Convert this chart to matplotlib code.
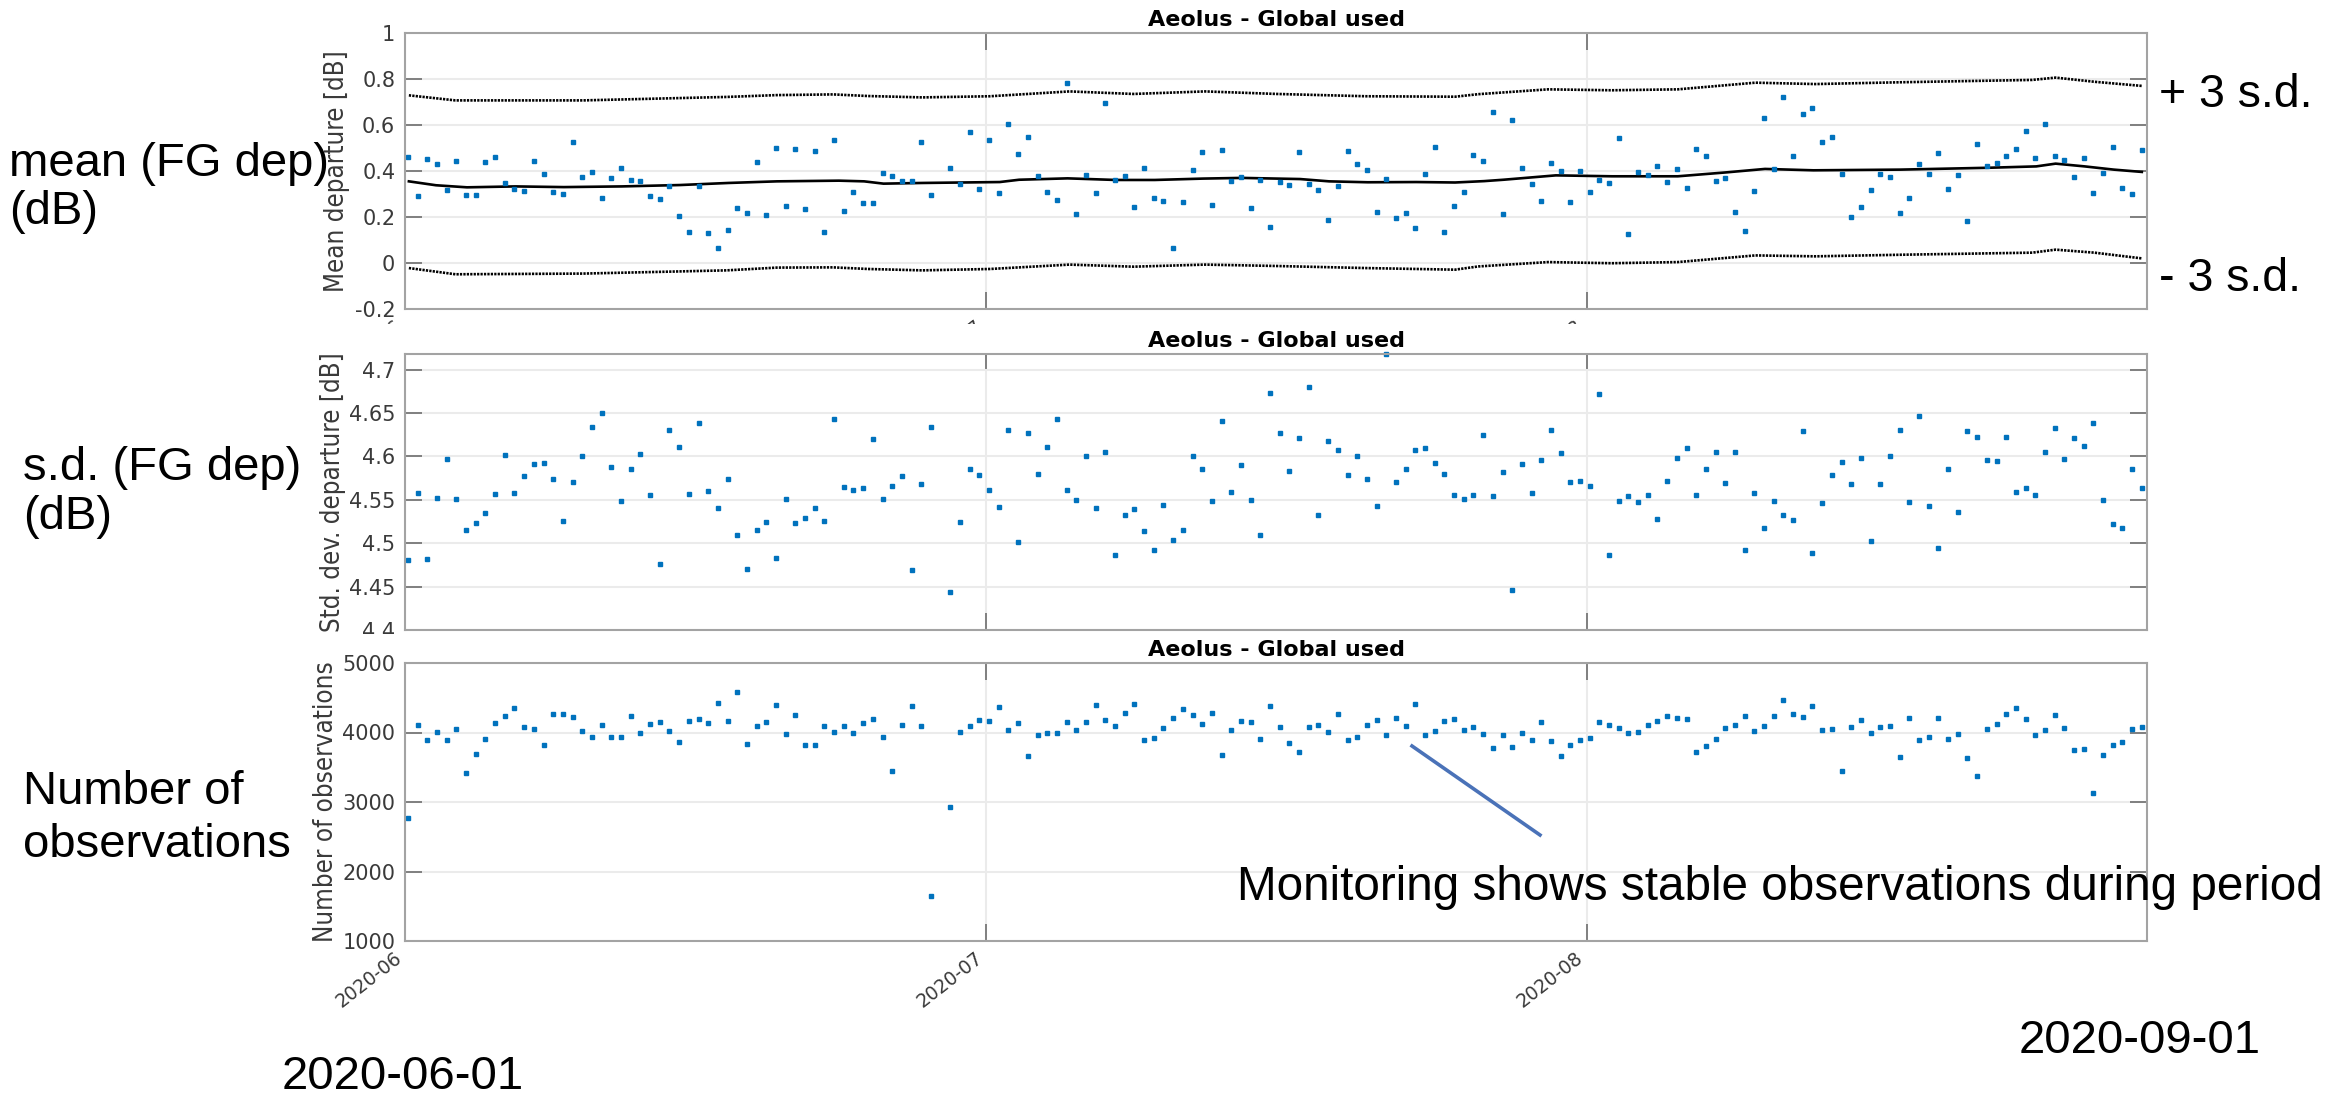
import numpy as np
import matplotlib
matplotlib.use("Agg")
import matplotlib.pyplot as plt
from matplotlib.transforms import Bbox

# ---------------------------------------------------------------------------
# Aeolus L2B monitoring, 12-hourly statistics, June - August 2020
# ---------------------------------------------------------------------------
first_time = np.datetime64("2020-06-01T03:36")
n_samples = 180
times = first_time + np.arange(n_samples) * np.timedelta64(12, "h")

mean_dep = [
    0.459, 0.291, 0.452, 0.432, 0.319, 0.445, 0.296, 0.296, 0.439, 0.459,
    0.349, 0.322, 0.313, 0.442, 0.386, 0.307, 0.300, 0.528, 0.375, 0.396,
    0.281, 0.368, 0.412, 0.361, 0.355, 0.291, 0.278, 0.333, 0.206, 0.133,
    0.336, 0.132, 0.065, 0.143, 0.241, 0.217, 0.438, 0.209, 0.501, 0.249,
    0.497, 0.233, 0.486, 0.135, 0.533, 0.226, 0.310, 0.259, 0.259, 0.391,
    0.380, 0.358, 0.355, 0.526, 0.294, np.nan, 0.414, 0.342, 0.571, 0.323,
    0.535, 0.306, 0.603, 0.475, 0.546, 0.377, 0.309, 0.275, 0.783, 0.213,
    0.384, 0.306, 0.694, 0.359, 0.378, 0.242, 0.412, 0.283, 0.271, 0.065,
    0.265, 0.403, 0.484, 0.251, 0.493, 0.358, 0.375, 0.238, 0.362, 0.157,
    0.354, 0.341, 0.481, 0.342, 0.317, 0.188, 0.333, 0.488, 0.429, 0.406,
    0.222, 0.367, 0.197, 0.217, 0.151, 0.387, 0.506, 0.135, 0.248, 0.309,
    0.471, 0.442, 0.658, 0.215, 0.620, 0.413, 0.342, 0.270, 0.436, 0.399,
    0.266, 0.399, 0.310, 0.362, 0.349, 0.543, 0.124, 0.397, 0.384, 0.420,
    0.352, 0.407, 0.325, 0.497, 0.464, 0.357, 0.368, 0.222, 0.137, 0.315,
    0.630, 0.410, 0.723, 0.466, 0.650, 0.673, 0.527, 0.549, 0.387, 0.198,
    0.244, 0.319, 0.387, 0.373, 0.218, 0.282, 0.432, 0.387, 0.477, 0.321,
    0.383, 0.182, 0.518, 0.420, 0.436, 0.465, 0.494, 0.575, 0.455, 0.604,
    0.465, 0.448, 0.373, 0.455, 0.303, 0.390, 0.503, 0.326, 0.300, 0.491,
]

std_dep = [
    4.481, 4.558, 4.482, 4.552, 4.597, 4.551, 4.515, 4.523, 4.535, 4.557,
    4.602, 4.558, 4.577, 4.591, 4.592, 4.574, 4.526, 4.570, 4.600, 4.634,
    4.650, 4.588, 4.549, 4.586, 4.603, 4.556, 4.476, 4.630, 4.611, 4.557,
    4.638, 4.560, 4.540, 4.574, 4.509, 4.470, 4.515, 4.524, 4.483, 4.551,
    4.523, 4.529, 4.541, 4.526, 4.643, 4.565, 4.561, 4.564, 4.620, 4.551,
    4.566, 4.578, 4.469, 4.568, 4.634, np.nan, 4.444, 4.525, 4.585, 4.579,
    4.561, 4.542, 4.631, 4.501, 4.627, 4.580, 4.611, 4.643, 4.561, 4.550,
    4.600, 4.541, 4.605, 4.486, 4.532, 4.539, 4.514, 4.492, 4.544, 4.504,
    4.515, 4.600, 4.585, 4.549, 4.641, 4.559, 4.590, 4.550, 4.509, 4.673,
    4.627, 4.583, 4.621, 4.680, 4.533, 4.618, 4.607, 4.579, 4.601, 4.574,
    4.543, 4.718, 4.571, 4.585, 4.607, 4.610, 4.592, 4.580, 4.555, 4.551,
    4.556, 4.625, 4.554, 4.582, 4.446, 4.591, 4.558, 4.596, 4.631, 4.604,
    4.570, 4.572, 4.566, 4.672, 4.486, 4.549, 4.554, 4.547, 4.555, 4.528,
    4.572, 4.598, 4.610, 4.555, 4.585, 4.605, 4.569, 4.605, 4.492, 4.558,
    4.518, 4.549, 4.533, 4.527, 4.629, 4.489, 4.546, 4.579, 4.594, 4.568,
    4.598, 4.503, 4.568, 4.601, 4.630, 4.548, 4.646, 4.543, 4.495, 4.585,
    4.536, 4.629, 4.622, 4.596, 4.595, 4.622, 4.559, 4.564, 4.555, 4.605,
    4.633, 4.597, 4.621, 4.612, 4.639, 4.550, 4.522, 4.518, 4.585, 4.564,
]

n_obs = [
    2769, 4111, 3885, 4005, 3889, 4048, 3413, 3697, 3913, 4135,
    4240, 4351, 4082, 4048, 3827, 4264, 4264, 4221, 4019, 3942,
    4115, 3933, 3933, 4240, 3986, 4125, 4144, 4024, 3870, 4159,
    4197, 4130, 4428, 4163, 4582, 3832, 4087, 4154, 4389, 3976,
    4255, 3817, 3827, 4091, 4010, 4091, 3995, 4130, 4192, 3933,
    3447, 4101, 4375, 4087, 1649, np.nan, 2933, 4014, 4087, 4178,
    4168, 4361, 4038, 4130, 3663, 3957, 3986, 3986, 4144, 4029,
    4144, 4394, 4178, 4091, 4279, 4413, 3899, 3928, 4063, 4202,
    4341, 4250, 4120, 4274, 3673, 4034, 4163, 4154, 3913, 4375,
    4082, 3851, 3716, 4082, 4111, 4014, 4264, 3889, 3942, 4111,
    4173, 3966, 4202, 4091, 4413, 3971, 4024, 4159, 4197, 4043,
    4077, 3976, 3784, 3962, 3793, 3995, 3889, 4149, 3875, 3668,
    3813, 3894, 3918, 4144, 4101, 4058, 3986, 4010, 4101, 4168,
    4240, 4202, 4192, 3721, 3808, 3904, 4063, 4106, 4231, 4024,
    4091, 4231, 4471, 4269, 4226, 4380, 4043, 4053, 3442, 4082,
    4183, 3986, 4077, 4087, 3654, 4207, 3894, 3938, 4212, 3909,
    3981, 3639, 3380, 4053, 4120, 4260, 4356, 4188, 3962, 4038,
    4255, 4067, 3755, 3764, 3130, 3673, 3827, 3870, 4053, 4072,
]

# running mean of the departures and its +/- 3 s.d. envelope (days since 1 June)
run_mean_day = [0.2, 1.6, 3.2, 5.7, 8.2, 11.2, 14.2, 16.7, 19.2, 22.4, 23.7,
                24.7, 26.7, 30.7, 31.7, 34.2, 36.7, 38.7, 41.2, 43.2, 46.2,
                47.7, 49.7, 52.2, 54.2, 55.7, 56.7, 59.4, 62.3, 65.7, 68.2,
                70.2, 72.7, 77.2, 81.7, 84.2, 85.2, 86.7, 88.2, 89.65]
run_mean = [0.355, 0.338, 0.329, 0.333, 0.330, 0.333, 0.339, 0.348, 0.355,
            0.358, 0.355, 0.345, 0.348, 0.352, 0.362, 0.368, 0.361, 0.361,
            0.367, 0.370, 0.365, 0.355, 0.351, 0.352, 0.350, 0.356, 0.362,
            0.381, 0.377, 0.377, 0.394, 0.409, 0.403, 0.406, 0.414, 0.420,
            0.432, 0.420, 0.406, 0.396]

band_day = [0.2, 2.6, 9.2, 16.6, 19.2, 22.1, 23.9, 26.7, 30.2, 34.3, 37.6,
            41.3, 45.0, 49.6, 54.2, 55.4, 59.0, 62.3, 65.7, 69.7, 72.8, 77.3,
            84.0, 85.2, 87.2, 89.65]
band_upper = [0.729, 0.707, 0.707, 0.722, 0.730, 0.733, 0.726, 0.720, 0.725,
              0.746, 0.735, 0.746, 0.735, 0.725, 0.723, 0.734, 0.755, 0.751,
              0.755, 0.784, 0.778, 0.786, 0.796, 0.806, 0.788, 0.770]
band_lower = [-0.022, -0.049, -0.046, -0.032, -0.020, -0.019, -0.026, -0.032,
              -0.026, -0.007, -0.016, -0.007, -0.013, -0.022, -0.029, -0.015,
              0.004, -0.001, 0.004, 0.033, 0.029, 0.036, 0.045, 0.058, 0.045,
              0.020]

month_ticks = ["2020-06-01", "2020-07-01", "2020-08-01"]
month_labels = ["2020-06", "2020-07", "2020-08"]

mean_ticks = [-0.2, 0, 0.2, 0.4, 0.6, 0.8, 1]
mean_ticklabels = ["-0.2", "0", "0.2", "0.4", "0.6", "0.8", "1"]
std_ticks = [4.4, 4.45, 4.5, 4.55, 4.6, 4.65, 4.7]
std_ticklabels = ["4.4", "4.45", "4.5", "4.55", "4.6", "4.65", "4.7"]
nobs_ticks = [1000, 2000, 3000, 4000, 5000]
nobs_ticklabels = ["1000", "2000", "3000", "4000", "5000"]

panel_title = "Aeolus - Global used"

# ---------------------------------------------------------------------------
W, H = 2331, 1095
fig = plt.figure(figsize=(W / 100, H / 100), dpi=100)
fig.patch.set_facecolor("white")

MARKER_BLUE = "#0072BD"
GREY_TEXT = "#3a3a3a"
day0 = np.datetime64("2020-06-01T00:00")


def to_time(days):
    return day0 + (np.asarray(days) * 86400).astype("timedelta64[s]")


def px_axes(x0, y0, x1, y1):
    return fig.add_axes([x0 / W, 1 - y1 / H, (x1 - x0) / W, (y1 - y0) / H])


def style(ax, ticks, ticklabels, ylim, ylabel, label_x, show_x):
    ax.set_facecolor("white")
    for s in ax.spines.values():
        s.set_color("#a3a3a3")
        s.set_linewidth(1.5)
    ax.set_xlim(day0, np.datetime64("2020-08-29T22:00"))
    ax.set_ylim(*ylim)
    ax.set_yticks(ticks)
    ax.set_yticklabels(ticklabels)
    ax.set_xticks([np.datetime64(d) for d in month_ticks])
    if show_x:
        ax.set_xticklabels(month_labels, rotation=38, ha="right", va="top",
                           rotation_mode="default")
    else:
        ax.set_xticklabels([])
    ax.tick_params(direction="in", length=12, width=1.2, color="#6e6e6e",
                   top=True, right=True, labelsize=15, labelcolor=GREY_TEXT,
                   pad=7)
    ax.tick_params(axis="x", labelsize=13.5, pad=5)
    ax.grid(True, color="#ebebeb", linewidth=1.5)
    ax.set_axisbelow(True)
    ax.set_ylabel(ylabel, fontsize=18.6, color=GREY_TEXT,
                  family="DejaVu Sans", fontstretch="condensed")
    ax.yaxis.set_label_coords(label_x, 0.5)
    ax.set_title(panel_title, fontsize=16, fontweight="bold", pad=5)


x_left, x_right = 405, 2147
mk = dict(ls="none", marker="s", ms=3.3, color=MARKER_BLUE, mec=MARKER_BLUE)

ax1 = px_axes(x_left, 33, x_right, 309)
for band in (band_upper, band_lower):
    ax1.plot(to_time(band_day), band, color="black", lw=1.9,
             dashes=(0.85, 0.45), dash_capstyle="butt")
ax1.plot(to_time(run_mean_day), run_mean, color="black", lw=1.9)
ax1.plot(times, mean_dep, **mk)
style(ax1, mean_ticks, mean_ticklabels, (-0.2, 1.0), "Mean departure [dB]",
      -0.0316, True)

ax2 = px_axes(x_left, 354, x_right, 630)
ax2.plot(times, std_dep, clip_on=False, **mk)
style(ax2, std_ticks, std_ticklabels, (4.4, 4.718),
      "Std. dev. departure [dB]", -0.0339, False)

ax3 = px_axes(x_left, 663, x_right, 941)
ax3.plot(times, n_obs, **mk)
style(ax3, nobs_ticks, nobs_ticklabels, (1000, 5000),
      "Number of observations", -0.0379, True)

# the panels overlap one another: only the tips of the top panel's date
# labels and the top of the middle panel's lowest value label stay visible
fig.canvas.draw()
top_strip = Bbox.from_extents(0, H - 324, W, H - 311)
for lab in ax1.get_xticklabels():
    lab.set_clip_box(top_strip)
cut = Bbox.from_extents(0, H - 634, W, H)
ax2.get_yticklabels()[0].set_clip_box(cut)

# ---------------------------------------------------------------------------
# slide annotations
ARIAL = ["Liberation Sans", "DejaVu Sans"]


def ftext(x, y, s, size=34):
    fig.text(x / W, 1 - y / H, s, family=ARIAL, fontsize=size,
             color="black", va="center")


ftext(9, 164, "mean (FG dep)", 34)
ftext(9, 212, "(dB)", 34)
ftext(23, 468, "s.d. (FG dep)")
ftext(23, 517, "(dB)")
ftext(23, 792, "Number of")
ftext(23, 845, "observations")

ftext(2159, 95, "+ 3 s.d.", 33.5)
ftext(2159, 279, "- 3 s.d.", 33.5)
ftext(1237, 887, "Monitoring shows stable observations during period", 34.3)
ftext(2019, 1041, "2020-09-01")
ftext(282, 1077, "2020-06-01")

fig.add_artist(plt.Line2D([1412 / W, 1540 / W], [1 - 746 / H, 1 - 835 / H],
                          color="#4a72b8", lw=2.6, transform=fig.transFigure))

fig.savefig("out.png", dpi=100, facecolor="white")
